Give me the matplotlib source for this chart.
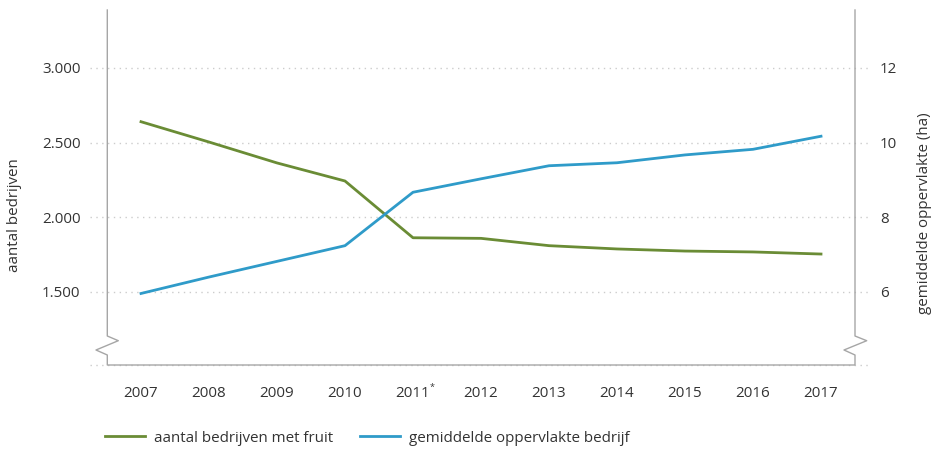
import matplotlib
matplotlib.use("Agg")
import matplotlib.pyplot as plt
from matplotlib.lines import Line2D
from matplotlib.transforms import blended_transform_factory, offset_copy

plt.rcParams['font.family'] = ['Open Sans', 'DejaVu Sans']

years = ["2007", "2008", "2009", "2010", "2011", "2012", "2013", "2014", "2015", "2016", "2017"]
year_notes = ["", "", "", "", "*", "", "", "", "", "", ""]
bedrijven = [2640, 2504, 2364, 2243, 1863, 1859, 1810, 1788, 1774, 1768, 1754]
oppervlakte = [5.96, 6.40, 6.82, 7.24, 8.67, 9.03, 9.38, 9.46, 9.67, 9.82, 10.17]
left_ticks = [1500, 2000, 2500, 3000]
left_labels = ["1.500", "2.000", "2.500", "3.000"]
right_ticks = [6, 8, 10, 12]
right_labels = ["6", "8", "10", "12"]

GREEN = "#6a8c35"
BLUE = "#2f9bc9"
TXT = "#333333"
GRID = "#cccccc"
SPINE = "#a6a6a6"
FS = 10.9

W, H = 934, 449
fig = plt.figure(figsize=(W / 100, H / 100), dpi=100)
ax = fig.add_axes([107 / W, 84 / H, 748 / W, 355 / H])
ax2 = ax.twinx()

x = list(range(len(years)))
ax.set_xlim(-0.5, len(years) - 0.5)
ax.set_ylim(1011, 3388)
ax2.set_ylim(4.045, 13.55)

for a in (ax, ax2):
    for s in a.spines.values():
        s.set_visible(False)
    a.patch.set_visible(False)

# dotted gridlines extending slightly beyond axes
tr = blended_transform_factory(ax.transAxes, ax.transData)
for v in left_ticks + [1011]:
    ax.plot([-17 / 748, 1 + 15 / 748], [v, v], transform=tr, color=GRID,
            lw=1.0, linestyle=(0, (1, 3.2)), clip_on=False, zorder=0)

l1, = ax.plot(x, bedrijven, color=GREEN, lw=2.0, solid_joinstyle='round', zorder=3)
l2, = ax2.plot(x, oppervlakte, color=BLUE, lw=2.0, solid_joinstyle='round', zorder=3)

ax.set_xticks(x)
ax.set_xticklabels(years)
ax.set_yticks(left_ticks)
ax.set_yticklabels(left_labels)
ax2.set_yticks(right_ticks)
ax2.set_yticklabels(right_labels)

ax.tick_params(axis='x', length=0, pad=15, labelsize=FS, labelcolor=TXT)
ax.tick_params(axis='y', length=0, pad=19, labelsize=FS, labelcolor=TXT)
ax2.tick_params(axis='y', length=0, pad=18, labelsize=FS, labelcolor=TXT)

# small superscript note marks next to year labels
trx = blended_transform_factory(ax.transData, ax.transAxes)
for xi, note in zip(x, year_notes):
    if note:
        ax.text(xi, 0, note, transform=offset_copy(trx, fig=fig, x=12.2, y=-16.2, units='points'),
                ha='left', va='center', fontsize=6.5, color=TXT)

fig.text(15 / W, 1 - 215 / H, "aantal bedrijven", rotation=90, ha='center', va='center',
         fontsize=FS, color=TXT)
fig.text(924 / W, 1 - 213 / H, "gemiddelde oppervlakte (ha)", rotation=90, ha='center',
         va='center', fontsize=FS, color=TXT)

# spines with break zigzags (pixel coords)
def fline(pts):
    xs = [p[0] / W for p in pts]
    ys = [1 - p[1] / H for p in pts]
    fig.add_artist(Line2D(xs, ys, color=SPINE, lw=1.0, transform=fig.transFigure))

fline([(107.3, 10), (107.3, 336), (118.3, 340.7), (96, 350), (107.3, 355), (107.3, 365), (855, 365),
       (855, 355), (844, 350), (866.7, 340.7), (855, 336), (855, 10)])

fig.legend([l1, l2], ["aantal bedrijven met fruit", "gemiddelde oppervlakte bedrijf"],
           loc='center left', bbox_to_anchor=(105 / W, 1 - 438 / H), ncol=2, frameon=False,
           fontsize=FS, handlelength=2.65, handletextpad=0.6, columnspacing=1.75,
           borderpad=0, borderaxespad=0, labelcolor=TXT)

fig.savefig("out.png", dpi=100)
